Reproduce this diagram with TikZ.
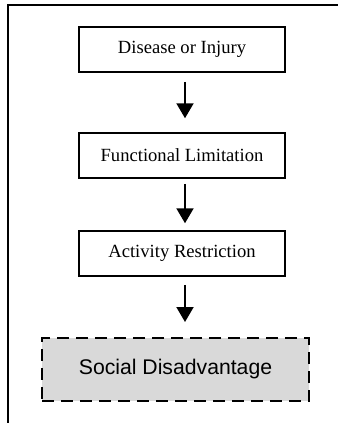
\documentclass[tikz,border=0pt]{standalone}
\usepackage{fontspec}
\setmainfont{Liberation Serif}
\newfontfamily\arialfont{Liberation Sans}
\usetikzlibrary{arrows.meta}
\definecolor{boxgray}{HTML}{D9D9D9}
\tikzset{
  stagebox/.style={draw=black, line width=1.5pt, minimum width=206pt, minimum height=45pt, inner sep=0pt, font=\fontsize{18.6}{22}\selectfont},
  socialbox/.style={draw=black, fill=boxgray, line width=2pt, dash pattern=on 12pt off 7pt, minimum width=267pt, minimum height=63pt, inner sep=0pt, font=\arialfont\fontsize{21.2}{25}\selectfont},
  flowarrow/.style={line width=2pt, -{Triangle[length=15pt,width=17pt]}},
  framestyle/.style={line width=2pt}
}
\begin{document}
\begin{tikzpicture}[x=1pt,y=-1pt]
\useasboundingbox (0,0) rectangle (338,423);
\draw[framestyle] (8,423) -- (8,4.5) -- (338,4.5);
\node[stagebox] (b1) at (182,49.5) {Disease or Injury};
\node[stagebox] (b2) at (182,155.5) {Functional Limitation};
\node[stagebox] (b3) at (182,253.5) {Activity Restriction};
\node[socialbox] (b4) at (175.5,369.5) {Social Disadvantage};
\draw[flowarrow, shorten <=9pt, shorten >=14pt] ([xshift=3pt]b1.south) -- ([xshift=3pt]b2.north);
\draw[flowarrow, shorten <=5pt, shorten >=7pt] ([xshift=3pt]b2.south) -- ([xshift=3pt]b3.north);
\draw[flowarrow, shorten <=8pt, shorten >=15pt] ([xshift=3pt]b3.south) -- ([xshift=9.5pt]b4.north);
\end{tikzpicture}
\end{document}
